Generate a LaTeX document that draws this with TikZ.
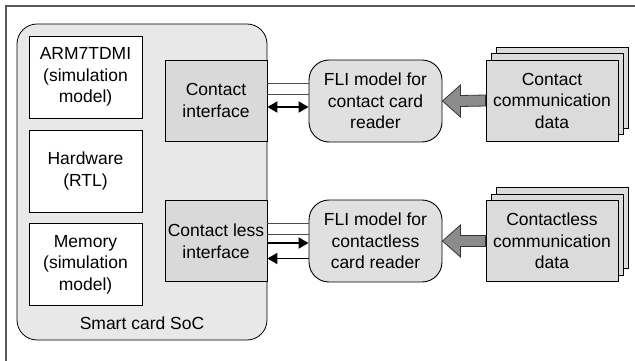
\documentclass[tikz,border=0pt]{standalone}
\usepackage{fontspec}
\setmainfont{Liberation Sans}
\usetikzlibrary{arrows.meta,calc,shadows}

\begin{document}
\begin{tikzpicture}[x=1pt,y=-1pt,
    every node/.style={font=\fontsize{17.5}{21.5}\selectfont, align=center, inner sep=0pt},
    soc/.style={draw, fill=black!9, rounded corners=20pt, line width=0.8pt, minimum width=250pt, minimum height=316pt},
    block/.style={draw, fill=white, line width=0.8pt, minimum width=113pt, minimum height=82pt},
    iface/.style={draw, fill=black!15, line width=0.8pt, minimum width=102pt, minimum height=81pt},
    fli/.style={draw, fill=black!12, rounded corners=20pt, line width=0.9pt, minimum width=133pt, minimum height=82pt},
    data/.style={draw, fill=black!14, line width=0.8pt, minimum width=132pt, minimum height=81pt,
                 double copy shadow={shadow xshift=5pt, shadow yshift=6.5pt}},
    bus/.style={draw=black!70, line width=0.7pt},
    tip/.tip={Triangle[length=10pt,width=11pt]},
    sig/.style={line width=1.8pt, -tip},
    dsig/.style={line width=1.8pt, tip-tip},
    bigarrow/.style={draw=black!80, fill=black!45, line width=0.8pt}
]
  \useasboundingbox (0,0) rectangle (635,361);
  \draw[draw=black!65, line width=1.2pt] (6,361) -- (6,6) -- (635,6);

  % the SoC and its parts
  \node[soc] (soc) at (142,182) {};
  \node (soclabel) at (142,323) {Smart card SoC};
  \node[block] (arm) at (85.5,77) {ARM7TDMI\\(simulation\\model)};
  \node[block] (hw) at (85.5,171) {Hardware\\(RTL)};
  \node[block] (mem) at (85.5,264.5) {Memory\\(simulation\\model)};
  \node[iface] (ci) at (216,100.5) {Contact\\interface};
  \node[iface] (cli) at (216,241) {Contact less\\interface};

  % reader models
  \node[fli] (fli1) at (375.5,101) {FLI model for\\contact card\\reader};
  \node[fli] (fli2) at (375.5,241) {FLI model for\\contactless\\card reader};

  % data sources
  \node[data] (d1) at (552,100.5) {Contact\\communication\\data};
  \node[data] (d2) at (552,241) {Contactless\\communication\\data};

  % contact side
  \path (ci.east) ++(0,-17.5) coordinate (ca) ++(0,11) coordinate (cb) ++(0,13) coordinate (cc);
  \draw[bus] (ca) -- (ca -| fli1.west);
  \draw[bus] (cb) -- (cb -| fli1.west);
  \draw[dsig] (cc) -- (cc -| fli1.west);

  % contactless side
  \path (cli.east) ++(0,-17.5) coordinate (la) ++(0,11) coordinate (lb)
    ++(0,8.5) coordinate (lc) ++(0,15.5) coordinate (ld);
  \draw[bus] (la) -- (la -| fli2.west);
  \draw[bus] (lb) -- (lb -| fli2.west);
  \draw[sig] (lc) -- (lc -| fli2.west);
  \draw[sig] (ld -| fli2.west) -- (ld);

  % data feeding the readers
  \draw[bigarrow] (fli1.east) -- ++(18,-16) -- ++(0,10.5) -- ($(d1.west)+(0,-5.5)$)
    -- ($(d1.west)+(0,5.5)$) -- ($(fli1.east)+(18,5.5)$) -- ++(0,10.5) -- cycle;
  \draw[bigarrow] (fli2.east) -- ++(18,-16) -- ++(0,10.5) -- ($(d2.west)+(0,-5.5)$)
    -- ($(d2.west)+(0,5.5)$) -- ($(fli2.east)+(18,5.5)$) -- ++(0,10.5) -- cycle;
\end{tikzpicture}
\end{document}
